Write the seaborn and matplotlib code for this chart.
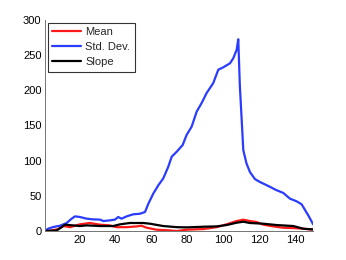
import matplotlib
matplotlib.use('Agg')
from matplotlib import pyplot as plt
import seaborn as sns
import pandas as pd

# values
std_x = [1, 3, 5.6, 9.3, 13, 15.8, 17.7, 20.4, 24.2, 27.8, 31.6, 33.4, 37.1, 39.9,
         41.7, 43.5, 46.4, 50, 53.8, 56.6, 58.4, 61.2, 64, 66.7, 69.5, 71.4, 74.2,
         77.5, 79.7, 82.5, 85.3, 88, 90.8, 94.5, 97.3, 100, 103.8, 105.6, 107.5,
         108.4, 109.3, 109.9, 111.2, 113, 114.9, 117.7, 120.4, 124.2, 129.7, 133.4,
         137.1, 140.8, 143.6, 147.3, 150]
std_y = [1, 4, 6.2, 8, 11.8, 18, 21.3, 20.4, 18, 17, 16.7, 14.7, 15.6, 16.7,
         20.4, 18, 21.3, 24.2, 25, 27.5, 39, 53.6, 65.4, 74.9, 91.5, 105.7, 112.8,
         122.3, 136.5, 148.3, 169.6, 181.5, 195.8, 210, 228.9, 232.2, 238, 245, 257,
         272, 205, 177, 115, 96, 84, 74, 70, 65.4, 58.3, 54.5,
         46.4, 42.6, 38.4, 22.7, 10]

mean_x = [1, 4, 8, 11.2, 14.9, 20.4, 26, 31.6, 37, 40.8, 46.4, 52, 54.7, 57.5,
          63, 70.4, 74.2, 79.7, 89, 96.4, 101.9, 107.5, 111.2, 114.9, 118.6, 122.3,
          127.8, 133.4, 139, 144.5, 150]
mean_y = [0.5, 1, 3, 7.6, 6, 10, 11.9, 9.5, 8.5, 6, 6, 7.1, 8, 5.2,
          2.4, 1.4, 0.5, 2.4, 3.3, 6, 10, 14.7, 16.6, 14.7, 13.3, 9.5,
          7.1, 5.2, 4.7, 3.8, 2.4]

slope_x = [1, 7.5, 10.3, 12.1, 16.7, 20.4, 24.2, 31.6, 38.9, 42.7, 48.2, 55.6,
           59.3, 66.7, 74.2, 79.7, 89, 96.4, 101.9, 107.5, 111.2, 114.9, 122.3,
           129.7, 139, 144.5, 150]
slope_y = [0.5, 1.4, 6, 9.5, 8.5, 7.6, 8.5, 7.6, 7.6, 10, 11.9, 11.9,
           10.9, 7.6, 6, 5.7, 6.6, 7.1, 9, 12.3, 13.7, 11.9, 10.9,
           9, 7.6, 3.8, 2.8]

series_names = ['Mean', 'Std. Dev.', 'Slope']
series_colors = ['#ff1a1a', '#2a3cff', '#000000']
x_ticks = [20, 40, 60, 80, 100, 120, 140]
y_ticks = [0, 50, 100, 150, 200, 250, 300]

frames = []
for name, xs, ys in zip(series_names, [mean_x, std_x, slope_x], [mean_y, std_y, slope_y]):
    frames.append(pd.DataFrame({'x': xs, 'value': ys, 'series': name}))
df = pd.concat(frames, ignore_index=True)

sns.set_style('white', {'xtick.direction': 'in', 'ytick.direction': 'in'})
plt.rcParams['font.family'] = ['Liberation Sans', 'DejaVu Sans']

fig = plt.figure(figsize=(3.46, 2.6), dpi=100)
ax = fig.add_axes([0.13, 0.11, 0.775, 0.815])

sns.lineplot(data=df, x='x', y='value', hue='series', hue_order=series_names,
             palette=dict(zip(series_names, series_colors)), estimator=None,
             linewidth=1.6, ax=ax)

ax.set_xlim(1, 150)
ax.set_ylim(0, 300)
ax.set_xticks(x_ticks)
ax.set_yticks(y_ticks)
ax.set_xlabel('')
ax.set_ylabel('')
ax.tick_params(axis='both', which='major', labelsize=8, length=2.5, width=0.6,
               color='0.35', direction='in', pad=2.5, labelcolor='black')

for side in ['top', 'right']:
    ax.spines[side].set_visible(False)
for side in ['left', 'bottom']:
    ax.spines[side].set_color('0.45')
    ax.spines[side].set_linewidth(0.7)

leg = ax.legend(loc='upper left', bbox_to_anchor=(0.01, 0.985), fontsize=8,
                frameon=True, fancybox=False, handlelength=2.6, handletextpad=0.4,
                borderpad=0.4, labelspacing=0.45, borderaxespad=0)
leg.get_frame().set_edgecolor('black')
leg.get_frame().set_linewidth(0.8)
for line in leg.get_lines():
    line.set_linewidth(1.6)

fig.savefig('out.png', dpi=100)
plt.close(fig)
